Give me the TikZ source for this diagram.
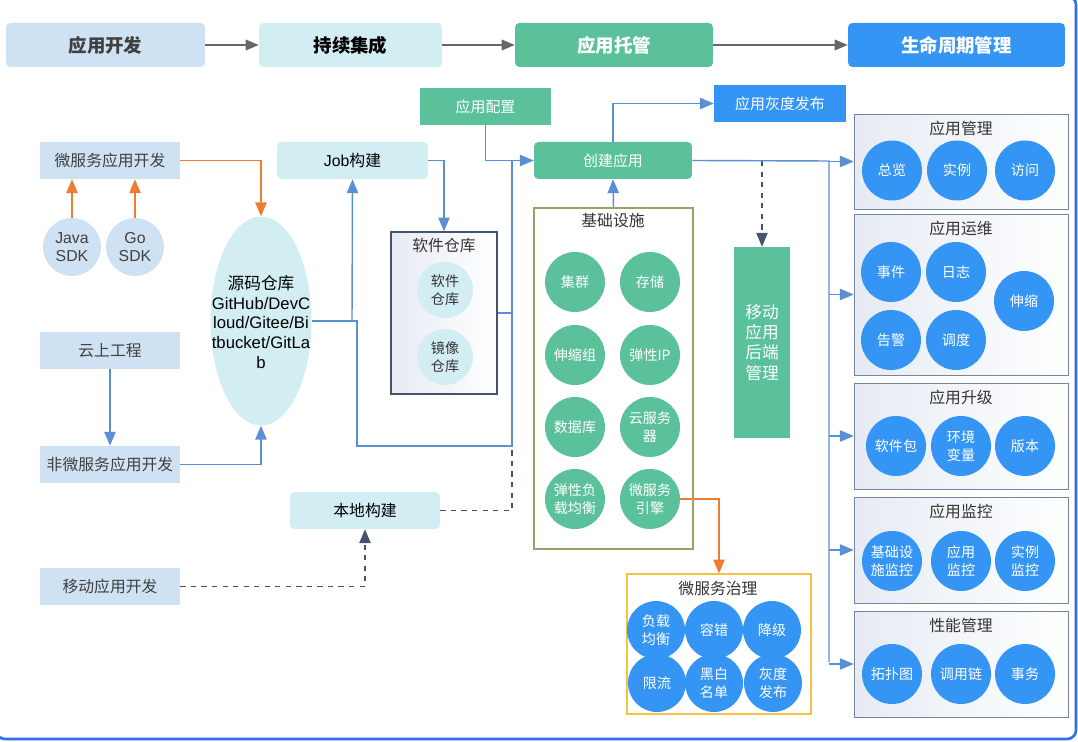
\documentclass[tikz,border=0pt]{standalone}
\usepackage{fontspec}
\setmainfont{Noto Sans CJK SC}
\newfontfamily\latinfont{Liberation Sans}
\usetikzlibrary{positioning,shapes,arrows,calc}

\definecolor{devblue}{HTML}{CFE2F3}
\definecolor{cicyan}{HTML}{D2EEF3}
\definecolor{hostgreen}{HTML}{5BC19B}
\definecolor{lifeblue}{HTML}{3595F5}
\definecolor{linkblue}{HTML}{5B8FD3}
\definecolor{devorange}{HTML}{ED7D31}
\definecolor{darkslate}{HTML}{44546A}
\definecolor{panelgray}{HTML}{7388A0}
\definecolor{panelfill}{HTML}{E6EBF3}
\definecolor{infraolive}{HTML}{8FA869}
\definecolor{govyellow}{HTML}{F5C242}
\definecolor{frameblue}{HTML}{2F6FE8}

\tikzset{
  stage/.style={rounded corners=2.5pt, minimum height=0.88cm, font=\fontsize{10.5}{12}\selectfont\bfseries},
  devbox/.style={fill=devblue, minimum width=2.8cm, minimum height=0.74cm, text=black!75, font=\fontsize{9}{11}\selectfont},
  cibox/.style={fill=cicyan, rounded corners=2.5pt, minimum height=0.74cm, font=\fontsize{9}{11}\selectfont},
  hostbox/.style={fill=hostgreen, text=white, minimum height=0.74cm, font=\fontsize{8.5}{10}\selectfont},
  sdk/.style={circle, fill=devblue, minimum size=1.16cm, inner sep=0pt, align=center, text=black!75, font=\latinfont\fontsize{9}{10.5}\selectfont},
  cyandot/.style={circle, fill=cicyan, minimum size=1.12cm, inner sep=0pt, align=center, text=black!80, font=\fontsize{8}{10}\selectfont},
  greendot/.style={circle, fill=hostgreen, minimum size=1.2cm, inner sep=0pt, align=center, text=white, font=\fontsize{8}{10}\selectfont},
  bluedot/.style={circle, fill=lifeblue, minimum size=1.2cm, inner sep=0pt, align=center, text=white, font=\fontsize{8}{10}\selectfont},
  panel/.style={draw=panelgray, left color=panelfill, right color=white, minimum width=4.28cm, minimum height=2.12cm},
  paneltitle/.style={text=black!80, font=\fontsize{9}{11}\selectfont},
  link/.style={draw=linkblue, line width=0.8pt},
  orangelink/.style={draw=devorange, line width=0.8pt},
  dashlink/.style={draw=darkslate, line width=0.8pt, dashed},
  stagelink/.style={draw=black!60, line width=0.7pt}
}

\begin{document}
\begin{tikzpicture}[x=0.02cm,y=-0.02cm]
   \useasboundingbox (0,0) rectangle (1078,742);
   \clip (0,0) rectangle (1078,742);
   \draw[frameblue, line width=1.5pt, rounded corners=5pt] (-4,-4) rectangle (1076,739);

   % stages
   \node[stage, fill=devblue, text=black!75, minimum width=3.98cm] (dev) at (105.5,45) {应用开发};
   \node[stage, fill=cicyan, text=black, minimum width=3.66cm] (ci) at (350.5,45) {持续集成};
   \node[stage, fill=hostgreen, text=white, minimum width=3.96cm] (host) at (614,45) {应用托管};
   \node[stage, fill=lifeblue, text=white, minimum width=4.34cm] (life) at (956.5,45) {生命周期管理};

   % development
   \node[devbox] (msdev) at (110,160.5) {微服务应用开发};
   \node[sdk] (javasdk) at (72,247) {Java\\SDK};
   \node[sdk] (gosdk) at (135,247) {Go\\SDK};
   \node[devbox] (cloudproj) at (110,350.5) {云上工程};
   \node[devbox] (nonms) at (110,464.5) {非微服务应用开发};
   \node[devbox] (mobiledev) at (110,586.5) {移动应用开发};
   \node[ellipse, fill=cicyan, minimum width=2.02cm, minimum height=4.18cm, inner sep=0pt] (repo) at (261,321) {};
   \node[align=center, font=\fontsize{9.5}{11.3}\selectfont] (repotext) at (261,322)
         {源码仓库\\{\latinfont GitHub/DevC}\\{\latinfont loud/Gitee/Bi}\\{\latinfont tbucket/GitLa}\\{\latinfont b}};

   % integration
   \node[cibox, minimum width=3.02cm] (job) at (352.5,160.5) {{\latinfont Job}构建};
   \node[cibox, minimum width=3.0cm] (local) at (365,510.5) {本地构建};
   \node[draw=darkslate, line width=0.7pt, left color=panelfill, right color=white,
         minimum width=2.12cm, minimum height=3.24cm] (swrepo) at (444,313) {};
   \node[paneltitle] (swrepotitle) at (444,246) {软件仓库};
   \node[cyandot] (swpkg) at (445,290) {软件\\仓库};
   \node[cyandot] (imgrepo) at (445,357) {镜像\\仓库};

   % hosting
   \node[hostbox, minimum width=2.62cm] (config) at (485.5,106.5) {应用配置};
   \node[hostbox, rounded corners=2.5pt, minimum width=3.16cm] (create) at (613,160.5) {创建应用};
   \node[hostbox, fill=lifeblue, minimum width=2.64cm] (gray) at (780,103.5) {应用灰度发布};
   \node[hostbox, minimum width=1.12cm, minimum height=3.82cm, align=center,
         font=\fontsize{9.5}{11.5}\selectfont] (backend) at (762,342.5) {移动\\应用\\后端\\管理};
   \node[draw=infraolive, line width=0.7pt, fill=white, minimum width=3.18cm, minimum height=6.82cm] (infra) at (613.5,378.5) {};
   \node[paneltitle] (infratitle) at (613,221) {基础设施};
   \node[greendot] (cluster) at (575,282) {集群};
   \node[greendot] (storage) at (650,282) {存储};
   \node[greendot] (asgroup) at (575,355) {伸缩组};
   \node[greendot] (eip) at (650,355) {弹性IP};
   \node[greendot] (rds) at (575,427) {数据库};
   \node[greendot] (ecs) at (650,427) {云服务\\器};
   \node[greendot] (elb) at (575,499) {弹性负\\载均衡};
   \node[greendot] (mse) at (650,499) {微服务\\引擎};
   \node[draw=govyellow, line width=0.7pt, fill=white, minimum width=3.68cm, minimum height=2.8cm] (gov) at (719,644) {};
   \node[paneltitle] (govtitle) at (718,588) {微服务治理};
   \node[bluedot, minimum size=1.16cm] (lb) at (656,630) {负载\\均衡};
   \node[bluedot, minimum size=1.16cm] (fault) at (714,630) {容错};
   \node[bluedot, minimum size=1.16cm] (degrade) at (772,630) {降级};
   \node[bluedot, minimum size=1.16cm] (limit) at (657,683) {限流};
   \node[bluedot, minimum size=1.16cm] (bwlist) at (714,683) {黑白\\名单};
   \node[bluedot, minimum size=1.16cm] (canary) at (773,683) {灰度\\发布};

   % lifecycle
   \node[panel, minimum height=1.9cm] (mgmt) at (961,161.5) {};
   \node[paneltitle] (mgmttitle) at (961,128) {应用管理};
   \node[bluedot] (overview) at (892,170.5) {总览};
   \node[bluedot] (inst) at (957,170.5) {实例};
   \node[bluedot] (access) at (1025,170.5) {访问};
   \node[panel, minimum height=3.22cm] (ops) at (961,294.5) {};
   \node[paneltitle] (opstitle) at (961,228) {应用运维};
   \node[bluedot] (event) at (891,272) {事件};
   \node[bluedot] (logs) at (956,272) {日志};
   \node[bluedot] (alarm) at (891,340) {告警};
   \node[bluedot] (sched) at (956,340) {调度};
   \node[bluedot] (scale) at (1024,301) {伸缩};
   \node[panel] (upg) at (961,436) {};
   \node[paneltitle] (upgtitle) at (961,397) {应用升级};
   \node[bluedot] (pkg) at (896,446) {软件包};
   \node[bluedot] (envvar) at (961,446) {环境\\变量};
   \node[bluedot] (ver) at (1025,446) {版本};
   \node[panel] (mon) at (961,550) {};
   \node[paneltitle] (montitle) at (961,511) {应用监控};
   \node[bluedot] (infmon) at (892,561) {基础设\\施监控};
   \node[bluedot] (appmon) at (961,561) {应用\\监控};
   \node[bluedot] (instmon) at (1025,561) {实例\\监控};
   \node[panel] (perf) at (961,664) {};
   \node[paneltitle] (perftitle) at (961,625) {性能管理};
   \node[bluedot] (topo) at (892,674) {拓扑图};
   \node[bluedot] (trace) at (961,674) {调用链};
   \node[bluedot] (txn) at (1025,674) {事务};

   % turning points
   \coordinate (jobturn) at (352,321);
   \coordinate (loopa) at (357,321);
   \coordinate (loopb) at (357,446);
   \coordinate (loopc) at (512,446);
   \coordinate (joint) at (512,161);
   \coordinate (bus) at (829,161);
   \coordinate (busend) at (829,662);

   \draw[stagelink,-triangle 45] (dev) -- (ci); %dev to ci
   \draw[stagelink,-triangle 45] (ci) -- (host); %ci to host
   \draw[stagelink,-triangle 45] (host) -- (life); %host to life

   \draw[orangelink,-triangle 45] (javasdk.north) -- (javasdk.north |- msdev.south); %java sdk
   \draw[orangelink,-triangle 45] (gosdk.north) -- (gosdk.north |- msdev.south); %go sdk
   \draw[orangelink,-triangle 45] (msdev.east) -| (repo.north); %ms dev to repo
   \draw[link,-triangle 45] (cloudproj) -- (nonms); %cloud to non ms
   \draw[link,-triangle 45] (nonms.east) -| (repo.south); %non ms to repo

   \draw[link] (repo.east) -- (loopa) -- (loopb) -- (loopc) -- (joint); %repo to create
   \draw[link,-triangle 45] (jobturn) -- (job.south); %repo to job
   \draw[link,-triangle 45] (job.east) -| (swrepo.north); %job to swrepo
   \draw[link] (swrepo.east) -- (swrepo.east -| joint); %swrepo to create
   \draw[dashlink] (local.east) -| (loopc); %local to create
   \draw[dashlink,-triangle 45] (mobiledev.east) -| (local.south); %mobile to local

   \draw[link,-triangle 45] (config.south) |- (create.west); %config to create
   \draw[link,-triangle 45] (create.north) |- (gray.west); %create to gray
   \draw[link,-triangle 45] (infra.north) -- (create.south); %infra to create
   \draw[dashlink,-triangle 45] (762,161) -- (backend.north); %create to backend
   \draw[orangelink,-triangle 45] (mse.east) -| (gov.north); %mse to gov

   \draw[link] (create.east) -- (bus) -- (busend); %create to lifecycle
   \foreach \p in {mgmt,ops,upg,mon,perf}
     \draw[link,-triangle 45] (bus |- \p.west) -- (\p.west);
\end{tikzpicture}
\end{document}
